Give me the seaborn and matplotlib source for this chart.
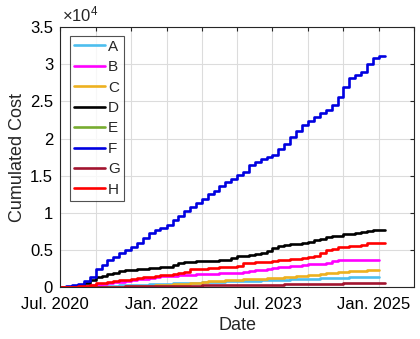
import numpy as np
import pandas as pd
import matplotlib
matplotlib.use("Agg")
import matplotlib.pyplot as plt
import matplotlib.transforms as mtransforms
import seaborn as sns

# Monthly cumulated cost per category, starting July 2020
start_month = "2020-07-01"
series_names = ["A", "B", "C", "D", "E", "F", "G", "H"]

cost_A = [0, 10, 20, 40, 60, 80, 100, 130, 160, 190, 220, 250, 280, 310, 340, 370,
          400, 430, 460, 490, 520, 550, 580, 610, 640, 670, 700, 730, 760, 790, 820,
          850, 870, 890, 910, 930, 950, 970, 1000, 1030, 1060, 1090, 1120, 1150, 1180,
          1210, 1240, 1260, 1280, 1300, 1320, 1340, 1360, 1380, 1400]
cost_B = [0, 20, 50, 100, 150, 250, 350, 450, 550, 650, 750, 850, 950, 1050, 1150,
          1250, 1350, 1450, 1500, 1550, 1600, 1650, 1700, 1750, 1750, 1800, 1800, 1850,
          1850, 1900, 1950, 2050, 2150, 2250, 2350, 2450, 2550, 2650, 2750, 2800, 2850,
          2950, 3050, 3100, 3150, 3200, 3550, 3600, 3600, 3650, 3650, 3650, 3700, 3700,
          3700]
cost_C = [0, 0, 0, 0, 10, 20, 30, 40, 50, 60, 80, 100, 120, 150, 180, 210, 250, 290,
          330, 370, 420, 470, 520, 600, 680, 760, 830, 880, 930, 970, 1000, 1050, 1100,
          1130, 1160, 1200, 1230, 1270, 1320, 1380, 1450, 1520, 1600, 1680, 1760, 1850,
          1950, 2050, 2100, 2150, 2200, 2230, 2260, 2280, 2300]
cost_D = [0, 50, 150, 300, 600, 1000, 1300, 1550, 1750, 1950, 2150, 2300, 2350, 2400,
          2450, 2550, 2600, 2650, 2700, 2950, 3300, 3400, 3450, 3500, 3500, 3550, 3550,
          3600, 3650, 3900, 4150, 4250, 4350, 4500, 4600, 4900, 5300, 5500, 5650, 5750,
          5850, 6000, 6100, 6300, 6500, 6700, 6850, 6950, 7100, 7200, 7300, 7450, 7550,
          7650, 7700, 7750]
cost_E = [0, 10, 20, 30, 40, 50, 60, 70, 80]
cost_F = [0, 100, 250, 450, 800, 1400, 2500, 3000, 3600, 4100, 4600, 5000, 5400, 5900,
          6600, 7300, 7700, 8000, 8400, 9000, 9600, 10200, 10800, 11300, 11900, 12500,
          13000, 13600, 14100, 14600, 15100, 15500, 16400, 16900, 17200, 17500, 17800,
          18600, 19300, 20200, 21000, 21800, 22300, 22900, 23400, 23900, 24500, 25600,
          26900, 28100, 28500, 29000, 30100, 30800, 31100, 31100]
cost_G = [0, 5, 10, 15, 20, 30, 40, 50, 60, 70, 80, 90, 100, 110, 120, 130, 140, 150,
          160, 170, 180, 190, 200, 210, 220, 230, 240, 250, 260, 270, 280, 290, 300,
          310, 320, 330, 340, 350, 360, 370, 380, 390, 400, 410, 420, 440, 460, 480,
          500, 520, 540, 560, 580, 600, 610, 620]
cost_H = [0, 20, 50, 100, 200, 350, 500, 600, 700, 800, 900, 1000, 1100, 1200, 1300,
          1400, 1500, 1600, 1650, 1750, 1850, 2000, 2400, 2450, 2500, 2550, 2600, 2650,
          2700, 2750, 2800, 3200, 3300, 3350, 3400, 3450, 3500, 3600, 3700, 3750, 3850,
          3950, 4050, 4200, 4600, 5000, 5200, 5400, 5450, 5500, 5600, 5700, 5900, 5950,
          6000, 6000]

series_values = [cost_A, cost_B, cost_C, cost_D, cost_E, cost_F, cost_G, cost_H]
series_colors = ["#4DBEEE", "#FF00FF", "#EDB120", "#000000",
                 "#77AC30", "#0000E0", "#A2142F", "#FF0000"]

ytick_values = [0, 5000, 10000, 15000, 20000, 25000, 30000, 35000]
ytick_labels = ["0", "0.5", "1", "1.5", "2", "2.5", "3", "3.5"]
xtick_dates = ["2020-07-01", "2021-01-01", "2021-07-01", "2022-01-01", "2022-07-01",
               "2023-01-01", "2023-07-01", "2024-01-01", "2024-07-01", "2025-01-01",
               "2025-07-01"]
xtick_labels = ["Jul. 2020", "", "", "Jan. 2022", "", "", "Jul. 2023", "", "",
                "Jan. 2025", ""]

frames = []
for name, vals in zip(series_names, series_values):
    dates = pd.date_range(start_month, periods=len(vals), freq="MS")
    frames.append(pd.DataFrame({"Date": dates, "Cost": vals, "Series": name}))
df = pd.concat(frames, ignore_index=True)

sns.set_style("white")
plt.rcParams["font.family"] = ["Liberation Sans", "DejaVu Sans"]
plt.rcParams["mathtext.fontset"] = "custom"
plt.rcParams["mathtext.rm"] = "Liberation Sans"

fig = plt.figure(figsize=(4.2, 3.39), dpi=100)
ax = fig.add_axes([0.143, 0.153, 0.843, 0.767])

sns.lineplot(data=df, x="Date", y="Cost", hue="Series", hue_order=series_names,
             palette=dict(zip(series_names, series_colors)), drawstyle="steps-post",
             linewidth=1.9, ax=ax, legend=True)

ax.set_xlim(pd.Timestamp("2020-07-01"), pd.Timestamp("2025-07-01"))
ax.set_ylim(0, 35000)
ax.set_xticks([pd.Timestamp(d) for d in xtick_dates])
ax.set_xticklabels(xtick_labels)
ax.set_yticks(ytick_values)
ax.set_yticklabels(ytick_labels)
ax.grid(True, color="#DCDCDC", linewidth=0.8)
ax.set_axisbelow(True)
for s in ax.spines.values():
    s.set_visible(True)
    s.set_color("#262626")
    s.set_linewidth(0.8)
ax.tick_params(direction="in", length=3, width=0.8, top=True, right=True,
               labelsize=12, colors="#262626")
ax.tick_params(axis="x", pad=7)
ax.tick_params(axis="y", pad=5)
shift = mtransforms.ScaledTranslation(-5 / 100, 0, fig.dpi_scale_trans)
for lbl in ax.get_xticklabels():
    lbl.set_color("black")
    lbl.set_transform(lbl.get_transform() + shift)
for lbl in ax.get_yticklabels():
    lbl.set_color("black")
ax.set_xlabel("Date", fontsize=13, labelpad=3.5)
ax.set_ylabel("Cumulated Cost", fontsize=13, labelpad=3)
ax.text(0.005, 1.012, r"$\times\mathregular{10^{4}}$", transform=ax.transAxes,
        fontsize=12, ha="left", va="bottom")

handles, labels = ax.get_legend_handles_labels()
leg = ax.legend(handles, labels, loc="upper left", bbox_to_anchor=(0.028, 0.966),
                fontsize=11, frameon=True, fancybox=False, handlelength=2.05,
                handletextpad=0.2, labelspacing=0.42, borderpad=0.25,
                borderaxespad=0.0)
leg.get_frame().set_edgecolor("#262626")
leg.get_frame().set_linewidth(0.8)
for h in leg.get_lines():
    h.set_linewidth(1.9)

fig.savefig("out.png", dpi=100)
